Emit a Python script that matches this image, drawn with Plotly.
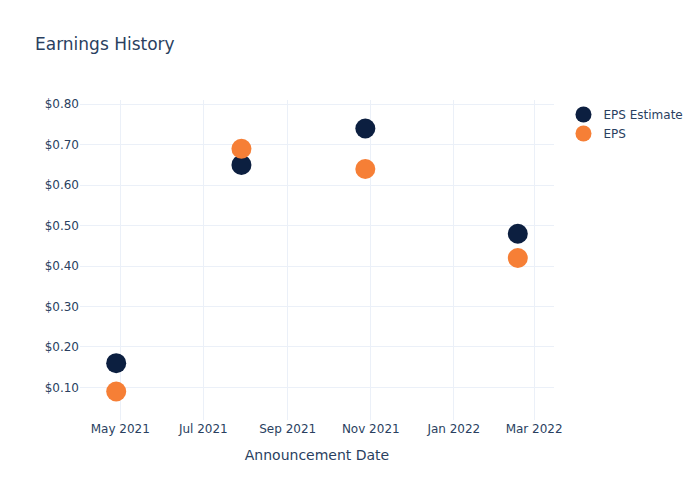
import plotly.graph_objects as go

dates = ["2021-04-28", "2021-07-29", "2021-10-28", "2022-02-17"]
eps_estimate = [0.16, 0.65, 0.74, 0.48]
eps_actual = [0.09, 0.69, 0.64, 0.42]

fig = go.Figure()
fig.add_trace(go.Scatter(x=dates, y=eps_estimate, mode="markers", name="EPS Estimate",
                         marker=dict(color="#0c1f40", size=20)))
fig.add_trace(go.Scatter(x=dates, y=eps_actual, mode="markers", name="EPS",
                         marker=dict(color="#f67f36", size=20)))
fig.update_layout(
    template="plotly_white",
    width=700, height=500,
    font=dict(family="DejaVu Sans"),
    title=dict(text="Earnings History"),
    xaxis=dict(title=dict(text="Announcement Date"), tickformat="%b %Y", dtick="M2"),
    yaxis=dict(tickprefix="$", tickformat=".2f"),
)
fig.write_html("out.html")
